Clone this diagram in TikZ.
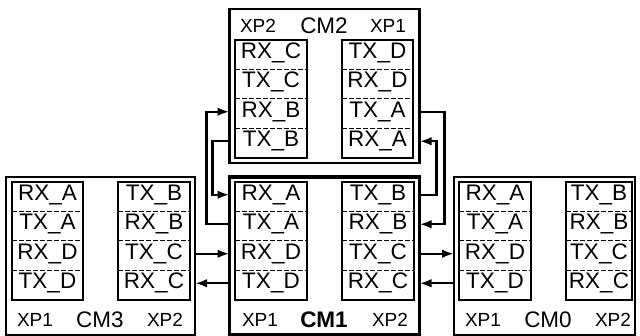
\documentclass[tikz,border=0pt]{standalone}
\usepackage{fontspec}
\setmainfont{Liberation Sans}
\usetikzlibrary{arrows.meta, positioning, calc}

\begin{document}
\begin{tikzpicture}[x=1pt, y=-1pt,
    every node/.style={inner sep=0pt, outer sep=0pt},
    module/.style={draw, rectangle, anchor=north west, line width=1.6pt},
    xport/.style={draw, rectangle, anchor=north west, line width=2.2pt,
                  minimum height=118},
    sig/.style={font=\fontsize{22.5}{24}\selectfont},
    xplab/.style={font=\fontsize{19}{21}\selectfont},
    cmlab/.style={font=\fontsize{22.5}{24}\selectfont},
    sep/.style={dash pattern=on 4.5pt off 2.5pt, line width=1pt},
    link/.style={line width=2.4pt},
    tip/.style={-{Latex[length=12pt, width=8.5pt]}}
]
\useasboundingbox (0,0) rectangle (640,336);
% Modules
\node[module, line width=2.5pt, minimum width=190, minimum height=154] (cm2) at (229.5,9) {};
\node[module, minimum width=189, minimum height=158] (cm3) at (6,177) {};
\node[module, line width=3.5pt, minimum width=190, minimum height=158] (cm1) at (229.5,177) {};
\node[module, minimum width=181, minimum height=158] (cm0) at (454,177) {};
% Ports with their lanes
\foreach \n/\x/\y/\w/\labs in {
    cm3xp1/12/182/71/{RX\_A,TX\_A,RX\_D,TX\_D},
    cm3xp2/118/182/72/{TX\_B,RX\_B,TX\_C,RX\_C},
    cm1xp1/235/182/72/{RX\_A,TX\_A,RX\_D,TX\_D},
    cm1xp2/342/182/72/{TX\_B,RX\_B,TX\_C,RX\_C},
    cm0xp1/459/182/72/{RX\_A,TX\_A,RX\_D,TX\_D},
    cm0xp2/566/182/66/{TX\_B,RX\_B,TX\_C,RX\_C},
    cm2xp2/235/40/72/{RX\_C,TX\_C,RX\_B,TX\_B},
    cm2xp1/342/40/71/{TX\_D,RX\_D,TX\_A,RX\_A}} {
    \node[xport, minimum width=\w] (\n) at (\x,\y) {};
    \foreach \s [count=\i] in \labs {
        \node[sig] (\n-\i) at ($(\n.north)!{(\i-0.5)/4}!(\n.south)+(0,-2)$) {\s};
    }
    \foreach \i in {1,2,3} {
        \draw[sep] ($(\n.north west)!\i/4!(\n.south west)$) -- ($(\n.north east)!\i/4!(\n.south east)$);
    }
}
% Labels
\node[xplab] (cm2a) at (258,26) {XP2};
\node[cmlab] (cm2b) at (324,26) {CM2};
\node[xplab] (cm2c) at (388,26) {XP1};
\node[xplab] (cm3a) at (35,320) {XP1};
\node[cmlab] (cm3b) at (100,320) {CM3};
\node[xplab] (cm3c) at (165,320) {XP2};
\node[xplab] (cm1a) at (260,320) {XP1};
\node[cmlab, font=\fontsize{22.5}{24}\selectfont\bfseries] (cm1b) at (324,320) {CM1};
\node[xplab] (cm1c) at (390,320) {XP2};
\node[xplab] (cm0a) at (483,320) {XP1};
\node[cmlab] (cm0b) at (548,320) {CM0};
\node[xplab] (cm0c) at (613,320) {XP2};
% Links to CM2
\draw[link, tip] (cm1.west |- cm1xp1-2) -- ++(-23,0) |- (cm2.west |- cm2xp2-3);
\draw[link, tip] (cm2.west |- cm2xp2-4) -- ++(-17,0) |- (cm1.west |- cm1xp1-1);
\draw[link, tip] (cm1.east |- cm1xp2-1) -- ++(17,0) |- (cm2.east |- cm2xp1-4);
\draw[link, tip] (cm2.east |- cm2xp1-3) -- ++(25,0) |- (cm1.east |- cm1xp2-2);
% Links to CM3 and CM0
\draw[link, tip] (cm3.east |- cm3xp2-3) -- (cm1.west |- cm1xp1-3);
\draw[link, tip] (cm1.west |- cm1xp1-4) -- (cm3.east |- cm3xp2-4);
\draw[link, tip] (cm1.east |- cm1xp2-3) -- (cm0.west |- cm0xp1-3);
\draw[link, tip] (cm0.west |- cm0xp1-4) -- (cm1.east |- cm1xp2-4);
\end{tikzpicture}
\end{document}
